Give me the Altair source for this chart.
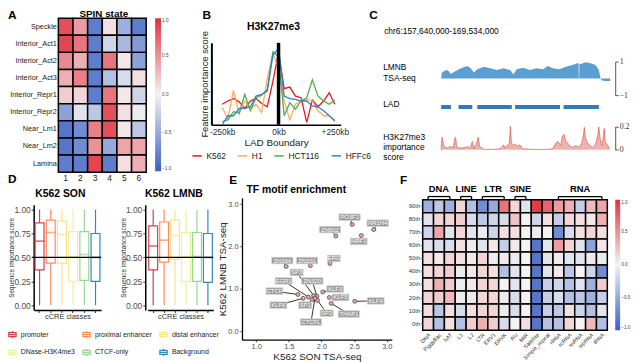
import altair as alt
import pandas as pd

W, H = 632, 354
FONT = "Liberation Sans"
RED, MID, BLUE = "#e2323f", "#f4f2f2", "#3a60c6"

# ---------------- Panel A : SPIN state heatmap ----------------
spin_states = ["Speckle", "Interior_Act1", "Interior_Act2", "Interior_Act3", "Interior_Repr1",
               "Interior_Repr2", "Near_Lm1", "Near_Lm2", "Lamina"]
spin_columns = ["1", "2", "3", "4", "5", "6"]
spin_values = [
    [0.85, 0.45, -0.80, 0.10, -0.45, -0.80],
    [0.90, 0.65, -0.80, -0.20, -0.40, -0.60],
    [0.55, 0.35, -0.80, 0.65, 0.05, -0.55],
    [0.35, 0.60, -0.80, -0.35, -0.15, 0.10],
    [0.20, 0.15, -0.80, 0.65, 0.05, -0.20],
    [-0.55, -0.10, -0.30, 0.85, 0.10, -0.05],
    [-0.85, -0.70, 0.60, 0.85, 0.05, -0.30],
    [-0.85, -0.70, 0.50, -0.50, 0.40, 0.40],
    [-0.80, -0.80, 0.90, -0.80, 0.10, 0.35],
]

# ---------------- Panel B : H3K27me3 around LAD boundary ----------------
lad_kb = [-250, -225, -200, -175, -150, -125, -100, -75, -50, -25, 0,
          25, 50, 75, 100, 125, 150, 175, 200, 225, 250]
cell_lines = ["K562", "H1", "HCT116", "HFFc6"]
cell_colors = ["#e31a1c", "#fdae61", "#4daf4a", "#2c7fd1"]
score_k562 = [0.25, 0.29, 0.32, 0.28, 0.20, 0.29, 0.32, 0.26, 0.22, 0.53, 0.89,
              0.44, 0.46, 0.35, 0.33, 0.03, 0.30, 0.22, 0.29, 0.39, 0.25]
score_h1 = [0.21, 0.07, 0.42, 0.13, 0.29, 0.19, 0.25, 0.15, 0.57, 0.87, 0.69,
            0.29, 0.06, 0.25, 0.29, 0.31, 0.29, 0.17, 0.11, 0.11, 0.04]
score_hct116 = [0.04, 0.06, 0.16, 0.14, 0.37, 0.17, 0.33, 0.36, 0.43, 0.89, 0.83,
                0.11, 0.27, 0.19, 0.29, 0.33, 0.55, 0.35, 0.29, 0.25, 0.30]
score_hffc6 = [0.00, 0.11, 0.11, 0.20, 0.20, 0.22, 0.35, 0.37, 0.41, 0.85, 0.93,
               0.35, 0.32, 0.31, 0.29, 0.29, 0.23, 0.22, 0.17, 0.11, 0.05]
boundary_kb = [0]

# ---------------- Panel C : genome browser tracks ----------------
region = [157.64, 169.534]
lmnb_mb = [157.64, 157.69, 157.87, 158.10, 158.33, 158.56, 159.03, 159.49, 159.72, 159.95,
           160.18, 160.64, 161.10, 161.57, 162.03, 162.49, 162.72, 162.95, 163.41, 163.88,
           164.34, 164.80, 165.15, 165.49, 165.95, 166.42, 166.88, 167.22, 167.31, 167.32,
           167.35, 167.36, 167.46, 167.80, 168.15, 168.49, 168.73, 168.84, 168.91, 169.18, 169.53]
lmnb_val = [0.00, 0.34, 0.46, 0.50, 0.26, 0.40, 0.60, 0.74, 0.60, 0.36,
            0.54, 0.70, 0.60, 0.50, 0.60, 0.50, 0.24, 0.54, 0.64, 0.50,
            0.60, 0.54, 0.74, 0.60, 0.54, 0.70, 0.80, 0.90, 0.90, 0.00,
            0.00, 0.85, 0.86, 0.96, 0.90, 0.80, 0.50, 0.06, -0.10, -0.14, -0.14]
lad_start = [157.64, 158.86, 160.18, 162.84, 166.25]
lad_end = [158.33, 159.83, 162.61, 166.00, 168.73]
k27_mb = [157.64, 157.66, 157.71, 157.78, 157.87, 158.10, 158.33, 158.49, 158.59, 158.66,
          158.73, 159.03, 159.37, 159.49, 159.67, 159.79, 159.86, 159.93, 160.09, 160.18,
          160.25, 160.34, 160.64, 161.34, 161.80, 161.96, 162.03, 162.12, 162.35, 162.44,
          162.51, 162.58, 162.72, 162.84, 163.00, 163.18, 163.37, 164.11, 165.03, 165.49,
          165.68, 165.82, 165.93, 166.05, 166.16, 166.28, 166.39, 166.53, 166.69, 166.88,
          167.11, 167.34, 167.53, 167.64, 167.71, 167.78, 167.87, 167.99, 168.15, 168.31,
          168.49, 168.65, 168.72, 168.79, 168.86, 168.95, 169.04, 169.11, 169.18, 169.27,
          169.36, 169.48]
k27_val = [0.000, 0.051, 0.107, 0.059, 0.023, 0.014, 0.031, 0.014, 0.093, 0.107,
           0.020, 0.014, 0.020, 0.031, 0.008, 0.059, 0.070, 0.008, 0.042, 0.079,
           0.107, 0.031, 0.003, 0.003, 0.008, 0.031, 0.042, 0.014, 0.042, 0.059,
           0.200, 0.059, 0.037, 0.048, 0.031, 0.042, 0.008, 0.003, 0.003, 0.008,
           0.051, 0.070, 0.059, 0.037, 0.115, 0.132, 0.079, 0.059, 0.031, 0.020,
           0.037, 0.020, 0.059, 0.121, 0.192, 0.107, 0.070, 0.051, 0.031, 0.020,
           0.042, 0.121, 0.197, 0.135, 0.059, 0.037, 0.107, 0.183, 0.070, 0.051,
           0.037, 0.008]

# ---------------- Panel D : boxplots ----------------
ccre_classes = ["promoter", "proximal enhancer", "distal enhancer",
                "DNase-H3K4me3", "CTCF-only", "Background"]
ccre_colors = ["#d53e4f", "#fc8d59", "#fee08b", "#e6f598", "#99d594", "#3288bd"]
son_q1 = [0.37, 0.44, 0.44, 0.25, 0.26, 0.25]
son_med = [0.67, 0.76, 0.74, 0.51, 0.53, 0.50]
son_q3 = [0.86, 0.89, 0.88, 0.77, 0.77, 0.75]
lmnb_q1 = [0.37, 0.45, 0.48, 0.25, 0.25, 0.24]
lmnb_med = [0.62, 0.68, 0.73, 0.51, 0.51, 0.50]
lmnb_q3 = [0.83, 0.87, 0.89, 0.76, 0.76, 0.75]
whisker_lo = [0.0, 0.0, 0.0, 0.0, 0.0, 0.0]
whisker_hi = [1.0, 1.0, 1.0, 1.0, 1.0, 1.0]
reference_line = [0.5]

# ---------------- Panel E : TF motif enrichment ----------------
tf_names = ["PO3F2", "NR1H4", "ZN502", "NRF1", "ERG", "ZN394", "ZN331", "SP3", "EGR1", "ZN320",
            "CTCF", "KLF6", "SP1", "SP2", "CTCFL", "THAP1", "KLF3", "KLF5", "KLF9"]
tf_son = [2.47, 2.80, 2.22, 2.61, 2.13, 1.46, 1.83, 1.88, 1.80, 1.93,
          1.64, 1.72, 1.86, 1.94, 1.90, 2.15, 2.02, 2.12, 2.51]
tf_lmnb = [2.52, 2.40, 2.25, 2.26, 1.60, 1.53, 1.55, 0.845, 0.81, 0.83,
           0.87, 0.78, 0.75, 0.73, 0.78, 0.66, 0.93, 0.80, 0.71]
label_son = [2.43, 2.86, 2.13, 2.57, 2.19, 1.40, 1.78, 1.62, 1.42, 1.86,
             1.28, 1.34, 1.75, 2.08, 1.84, 2.42, 2.21, 2.29, 2.83]
label_lmnb = [2.69, 2.55, 2.40, 2.12, 1.72, 1.67, 1.67, 1.39, 1.19, 1.19,
              0.95, 0.62, 0.62, 0.43, 0.22, 0.41, 1.00, 0.80, 0.72]

# ---------------- Panel F : repeat heatmap ----------------
repeat_classes = ["DNA", "PiggyBac", "hAT", "L1", "L2", "LTR", "ERV1", "ERVK", "Alu", "MIR",
                  "Satellite", "Simple_repeat", "rRNA", "scRNA", "snRNA", "srpRNA", "tRNA"]
percentiles = ["90th", "80th", "70th", "60th", "50th", "40th", "30th", "20th", "10th", "0th"]
repeat_values = [
    [-0.45, -0.30, -0.45, 0.15, -0.35, -0.70, -0.50, 0.65, 0.15, -0.10, 0.95, 0.75, 0.45, 0.35, -0.25, 0.30, 0.40],
    [-0.10, 0.15, 0.15, 0.20, -0.15, -0.30, -0.20, -0.15, 0.25, 0.00, -0.20, 0.10, -0.25, 0.15, 0.10, 0.05, 0.35],
    [-0.20, 0.40, -0.10, 0.15, -0.10, -0.05, -0.20, 0.10, 0.10, 0.00, -0.05, 0.00, -0.70, -0.15, 0.10, 0.15, 0.10],
    [-0.10, -0.15, -0.15, 0.10, -0.05, -0.10, 0.05, -0.25, 0.05, 0.00, -0.85, -0.10, 0.45, 0.15, -0.10, -0.55, 0.05],
    [0.10, 0.05, 0.15, 0.10, 0.05, 0.15, -0.05, 0.05, -0.05, 0.00, -0.85, -0.10, -0.05, -0.10, -0.10, 0.05, -0.05],
    [0.10, 0.15, 0.20, -0.05, 0.05, 0.15, 0.10, -0.35, -0.10, 0.00, -0.85, -0.10, 0.05, -0.30, 0.00, -0.20, -0.70],
    [0.10, 0.35, 0.20, -0.05, 0.05, 0.15, 0.15, 0.00, -0.10, 0.00, -0.85, -0.25, -0.20, -0.35, -0.10, -0.45, 0.20],
    [0.15, 0.20, 0.30, -0.05, 0.05, 0.15, 0.15, -0.05, -0.15, 0.00, -0.85, -0.25, -0.15, -0.35, -0.30, -0.45, -0.25],
    [0.10, -0.30, 0.10, -0.15, 0.10, 0.15, 0.15, -0.05, -0.15, 0.00, -0.85, -0.25, -0.30, 0.10, -0.20, -0.35, -0.10],
    [0.15, -0.35, 0.10, -0.35, 0.20, 0.35, 0.20, -0.15, 0.00, 0.10, -0.85, -0.35, -0.35, 0.15, 0.00, 0.30, -0.35],
]
repeat_groups = ["DNA", "LINE", "LTR", "SINE", "RNA"]
group_first = ["DNA", "L1", "LTR", "Alu", "rRNA"]
group_last = ["hAT", "L2", "ERVK", "MIR", "tRNA"]


# ================= helpers =================
def txt(s, x, y, size=9, weight="normal", align="left", baseline="top", font=FONT, color="black"):
    return alt.Chart(alt.Data(values=[{}])).mark_text(
        text=s, x=x, y=y, fontSize=size, fontWeight=weight, align=align,
        baseline=baseline, font=font, color=color, lineBreak="\n", lineHeight=size * 1.2)


div_scale = dict(domain=[-1, 0, 1], range=[BLUE, MID, RED], interpolate="rgb")

def grad_legend(x, y, length, thick):
    return alt.Legend(orient="none", legendX=x, legendY=y, direction="vertical", title=None,
                      gradientLength=length, gradientThickness=thick, values=[-1, -0.5, 0, 0.5, 1],
                      format=".1f", labelFontSize=4.8, labelColor="#444", labelOverlap=False,
                      labelOffset=1, gradientStrokeWidth=0)

layers = []

# ---------- A ----------
a_df = pd.DataFrame([{"state": s, "col": c, "v": spin_values[i][j]}
                     for i, s in enumerate(spin_states) for j, c in enumerate(spin_columns)])
heat_a = alt.Chart(a_df).mark_rect(stroke="black", strokeWidth=1.5).encode(
    x=alt.X("col:O", sort=spin_columns,
            scale=alt.Scale(range=[51, 140], paddingInner=0, paddingOuter=0),
            axis=alt.Axis(orient="bottom", offset=164 - H, domain=False, ticks=False, labelAngle=0,
                          labelFontSize=8.5, labelPadding=1, labelColor="#222", title=None)),
    y=alt.Y("state:O", sort=spin_states,
            scale=alt.Scale(range=[8, 164], paddingInner=0, paddingOuter=0),
            axis=alt.Axis(orient="left", offset=-51, domain=False, ticks=False, labelFontSize=7.4,
                          labelPadding=2, labelColor="#222", title=None)),
    color=alt.Color("v:Q", scale=alt.Scale(**div_scale), legend=grad_legend(149, 8, 155, 6)),
)
layers += [heat_a, txt("SPIN state", 97, -1.5, size=10, weight="bold", align="center"),
           txt("A", 0, 0, size=12, weight="bold")]

# ---------- B ----------
b_df = pd.DataFrame({
    "kb": lad_kb * 4,
    "score": score_k562 + score_h1 + score_hct116 + score_hffc6,
    "cell": sum([[c] * len(lad_kb) for c in cell_lines], []),
})
bx = alt.Scale(domain=[-298, 276], range=[206, 337], nice=False, zero=False)
by = alt.Scale(domain=[0, 1], range=[116, 33], nice=False, zero=False)
b_lines = alt.Chart(b_df).mark_line(strokeWidth=1.3).encode(
    x=alt.X("kb:Q", scale=bx,
            axis=alt.Axis(orient="bottom", offset=116 - H, values=[-250, 0, 250], labelFlush=False,
                          labelExpr="datum.value == 0 ? '0kb' : (datum.value > 0 ? '+' + datum.value + 'kb' : datum.value + 'kb')",
                          ticks=False, domainColor="black", domainWidth=1.5, labelFontSize=8.5,
                          labelColor="#333", labelPadding=3, title="LAD Boundary", titleFontSize=10,
                          titleFontWeight="normal", titlePadding=2, titleColor="#222")),
    y=alt.Y("score:Q", scale=by,
            axis=alt.Axis(orient="left", offset=-206, labels=False, ticks=False, domainColor="black",
                          domainWidth=2, title="Feature importance score", titleFontSize=9.5,
                          titleFontWeight="normal", titlePadding=2, titleColor="#222")),
    color=alt.Color("cell:N", sort=cell_lines, scale=alt.Scale(domain=cell_lines, range=cell_colors),
                    legend=alt.Legend(orient="none", legendX=186, legendY=142, direction="horizontal",
                                      title=None, symbolType="stroke", symbolSize=90,
                                      symbolStrokeWidth=1.5, labelFontSize=8.5, labelColor="#222",
                                      columnPadding=8, labelOffset=4, gridAlign="none")),
)
b_rule = alt.Chart(pd.DataFrame({"kb": boundary_kb})).mark_rule(color="black", strokeWidth=3.5).encode(
    x=alt.X("kb:Q", scale=bx), y=alt.value(33), y2=alt.value(116))
layers += [alt.layer(b_lines, b_rule),
           txt("H3K27me3", 269, 12, size=10.5, weight="bold", align="center"),
           txt("B", 197, 0, size=12, weight="bold")]

# ---------- C ----------
cx = alt.Scale(domain=region, range=[438.7, 610], nice=False, zero=False)
lmnb_df = pd.DataFrame({"mb": lmnb_mb, "v": lmnb_val})
c_lmnb = alt.Chart(lmnb_df).mark_area(color="#5b9fd2").encode(
    x=alt.X("mb:Q", scale=cx, axis=None),
    y=alt.Y("v:Q", scale=alt.Scale(domain=[-1, 1], range=[86.3, 52], nice=False),
            axis=alt.Axis(orient="right", offset=615 - W, values=[-1, 1], format="d",
                          labelFont="Liberation Serif", labelFontSize=8, tickSize=3,
                          domainColor="#555", tickColor="#555", labelColor="#333",
                          labelPadding=1, title=None)),
)
lad_df = pd.DataFrame({"s": lad_start, "e": lad_end})
c_lad = alt.Chart(lad_df).mark_rect(color="#2f7cb9").encode(
    x=alt.X("s:Q", scale=cx, axis=None), x2="e:Q", y=alt.value(96), y2=alt.value(100))
k27_df = pd.DataFrame({"mb": k27_mb, "v": k27_val})
k27_y = alt.Scale(domain=[0, 0.2], range=[141.3, 117.7], nice=False)
c_k27 = alt.Chart(k27_df).mark_area(color="#e8938a", line={"color": "#d0493e", "strokeWidth": 0.6}).encode(
    x=alt.X("mb:Q", scale=cx, axis=None),
    y=alt.Y("v:Q", scale=k27_y,
            axis=alt.Axis(orient="right", offset=615 - W, values=[0, 0.2], labelFont="Liberation Serif",
                          labelFontSize=8, tickSize=3, domainColor="#555", tickColor="#555",
                          labelColor="#333", labelPadding=1, title=None,
                          labelExpr="datum.value == 0 ? '0' : format(datum.value, '.1f')")),
)
layers += [c_lmnb, c_lad, c_k27,
           txt("chr6:157,640,000-169,534,000", 381, 17, size=8.5),
           txt("LMNB\nTSA-seq", 380, 54, size=8.5),
           txt("LAD", 380, 91, size=8.5),
           txt("H3K27me3\nimportance\nscore", 380, 124, size=8.5),
           txt("C", 366, 0, size=12, weight="bold")]

# ---------- D ----------
BOXPATH = "M-1,-0.55H1V0.55H-1Z M-1,0H1 M0,-0.55V-1 M0,0.55V1"

def box_panel(q1, med, q3, xr, axis_at, legend):
    df = pd.DataFrame({"cls": ccre_classes, "lo": whisker_lo, "q1": q1, "med": med,
                       "q3": q3, "hi": whisker_hi})
    xs = alt.Scale(domain=ccre_classes, range=xr, paddingInner=0, paddingOuter=0)
    ys = alt.Scale(domain=[-0.05, 1.05], range=[303.7, 197], nice=False, zero=False)
    xenc = alt.X("cls:N", sort=ccre_classes, scale=xs,
                 axis=alt.Axis(orient="bottom", offset=303.7 - H, labels=False, tickSize=2.5,
                               tickColor="#333", domainColor="black", domainWidth=1.5,
                               title="cCRE classes", titleFontSize=7.5, titleFontWeight="normal",
                               titlePadding=0, titleColor="#333"))
    yenc = alt.Y("q1:Q", scale=ys,
                 axis=alt.Axis(orient="left", offset=-axis_at, values=[0, 0.25, 0.5, 0.75, 1],
                               format=".2f", labelFontSize=8.5, labelColor="#4d4d4d", tickSize=2.5,
                               tickColor="#333", labelPadding=1, domainColor="black", domainWidth=1.5,
                               title="Sequence importance score", titleFontSize=6.5,
                               titleFontWeight="normal", titlePadding=-1, titleColor="#222"))
    if legend:
        leg = alt.Legend(orient="none", legendX=0, legendY=324, direction="horizontal", columns=3,
                         gridAlign="none", title=None, symbolType=BOXPATH, symbolSize=55,
                         symbolStrokeWidth=1.2, symbolFillColor="transparent",
                         labelFontSize=7, labelColor="#222",
                         columnPadding=5, rowPadding=5, labelLimit=60, labelOffset=4)
    else:
        leg = None
    stroke = alt.Stroke("cls:N", sort=ccre_classes,
                        scale=alt.Scale(domain=ccre_classes, range=ccre_colors), legend=leg)
    base = alt.Chart(df)
    box = base.mark_bar(filled=False, width=9, strokeWidth=1.2).encode(
        x=xenc, y=yenc, y2="q3:Q", stroke=stroke)
    w_lo = base.mark_rule(strokeWidth=1.2).encode(x=xenc, y="lo:Q", y2="q1:Q", stroke=stroke)
    w_hi = base.mark_rule(strokeWidth=1.2).encode(x=xenc, y="q3:Q", y2="hi:Q", stroke=stroke)
    medt = base.mark_tick(filled=False, size=9, thickness=0.2, strokeWidth=1.5).encode(
        x=xenc, y="med:Q", stroke=stroke)
    hline = alt.Chart(pd.DataFrame({"y": reference_line})).mark_rule(color="black", strokeWidth=1.3).encode(
        y=alt.Y("y:Q", scale=ys), x=alt.value(xr[0] - 2), x2=alt.value(xr[1]))
    return alt.layer(box, w_lo, w_hi, medt, hline)

layers += [box_panel(son_q1, son_med, son_q3, [26.3, 94.3], 26, True),
           box_panel(lmnb_q1, lmnb_med, lmnb_q3, [141.5, 208], 139, False),
           txt("K562 SON", 53, 181, size=10.5, weight="bold", align="center"),
           txt("K562 LMNB", 168, 181, size=10.5, weight="bold", align="center"),
           txt("D", 0, 166, size=12, weight="bold")]

# ---------- E ----------
e_df = pd.DataFrame({"tf": tf_names, "son": tf_son, "lmnb": tf_lmnb, "lx": label_son, "ly": label_lmnb})
ex = alt.Scale(domain=[0.784, 3.076], range=[237, 388.7], nice=False, zero=False)
ey = alt.Scale(domain=[-0.195, 3.147], range=[333.7, 190], nice=False, zero=False)
ebase = alt.Chart(e_df)
e_seg = ebase.mark_rule(color="black", strokeWidth=0.8).encode(
    x=alt.X("son:Q", scale=ex,
            axis=alt.Axis(orient="bottom", offset=333.7 - H, values=[1.0, 1.5, 2.0, 2.5, 3.0],
                          format=".1f", labelFontSize=7.5, labelColor="#4d4d4d", tickSize=2,
                          tickColor="#333", labelPadding=1, domainColor="black", domainWidth=1.3,
                          labelFlush=False, title="K562 SON TSA-seq", titleFontSize=10,
                          titleFontWeight="normal", titlePadding=1.5, titleColor="#222")),
    y=alt.Y("lmnb:Q", scale=ey,
            axis=alt.Axis(orient="left", offset=-237, values=[0, 1, 2, 3], labelFontSize=7.5,
                          labelColor="#4d4d4d", tickSize=2, tickColor="#333", labelPadding=2,
                          domainColor="black", domainWidth=1.3, title="K562 LMNB TSA-seq",
                          titleFontSize=10, titleFontWeight="normal", titlePadding=0,
                          titleColor="#222")),
    x2="lx:Q", y2="ly:Q")
label_shapes = ["M-2.2,-1.12H2.2V1.12H-2.2Z", "M-2.85,-1.12H2.85V1.12H-2.85Z",
                "M-3.6,-1.12H3.6V1.12H-3.6Z"]
e_box = ebase.transform_calculate(nchar="toString(length(datum.tf))").mark_point(
    filled=True, size=36, fill="#9a9a9a", stroke="#d9d9d9", strokeWidth=0.8, opacity=1).encode(
    x=alt.X("lx:Q", scale=ex), y=alt.Y("ly:Q", scale=ey),
    shape=alt.Shape("nchar:N", scale=alt.Scale(domain=["3", "4", "5"], range=label_shapes), legend=None))
e_lab = ebase.mark_text(color="white", fontSize=6).encode(
    x=alt.X("lx:Q", scale=ex), y=alt.Y("ly:Q", scale=ey), text="tf:N")
e_pts = ebase.mark_point(filled=True, size=16, fill="#e6a9b0", stroke="#333", strokeWidth=0.7, opacity=1).encode(
    x=alt.X("son:Q", scale=ex), y=alt.Y("lmnb:Q", scale=ey))
layers += [alt.layer(e_seg, e_pts, e_box, e_lab),
           txt("TF motif enrichment", 292, 177, size=10.5, weight="bold", align="center"),
           txt("E", 224, 167, size=12, weight="bold")]

# ---------- F ----------
f_df = pd.DataFrame([{"pct": p, "rep": r, "v": repeat_values[i][j]}
                     for i, p in enumerate(percentiles) for j, r in enumerate(repeat_classes)])
heat_f = alt.Chart(f_df).mark_rect(stroke="black", strokeWidth=1.5).encode(
    x=alt.X("rep:O", sort=repeat_classes,
            scale=alt.Scale(range=[420, 607], paddingInner=0, paddingOuter=0),
            axis=alt.Axis(orient="bottom", offset=324 - H, domain=False, ticks=False, labelAngle=-45,
                          labelAlign="right", labelBaseline="top", labelFontSize=5.5,
                          labelPadding=2, labelColor="#333", title=None)),
    y=alt.Y("pct:O", sort=percentiles,
            scale=alt.Scale(range=[192, 324], paddingInner=0, paddingOuter=0),
            axis=alt.Axis(orient="left", offset=-420, domain=False, tickSize=2, tickColor="#555",
                          labelFontSize=6, labelPadding=1, labelColor="#333", title=None)),
    color=alt.Color("v:Q", scale=alt.Scale(**div_scale), legend=grad_legend(615, 192, 132, 5)),
)
grp_df = pd.DataFrame({"group": repeat_groups,
                       "i0": [repeat_classes.index(c) for c in group_first],
                       "i1": [repeat_classes.index(c) for c in group_last]})
gx = alt.Scale(domain=[-0.5, len(repeat_classes) - 0.5], range=[420, 607], nice=False, zero=False)
gbase = alt.Chart(grp_df).transform_calculate(mid="(datum.i0 + datum.i1) / 2")
g_h = gbase.mark_rule(color="black", strokeWidth=1.3).encode(
    x=alt.X("i0:Q", scale=gx, axis=None), x2="i1:Q", y=alt.value(188.7))
g_l = gbase.mark_rule(color="black", strokeWidth=1.3).encode(
    x=alt.X("i0:Q", scale=gx, axis=None), y=alt.value(188.7), y2=alt.value(191.5))
g_r = gbase.mark_rule(color="black", strokeWidth=1.3).encode(
    x=alt.X("i1:Q", scale=gx, axis=None), y=alt.value(188.7), y2=alt.value(191.5))
g_t = gbase.mark_text(fontSize=9.5, fontWeight="bold", baseline="bottom").encode(
    x=alt.X("mid:Q", scale=gx, axis=None), y=alt.value(186.5), text="group:N")
layers += [heat_f, alt.layer(g_h, g_l, g_r, g_t), txt("F", 397, 167, size=12, weight="bold")]

chart = alt.layer(*layers).resolve_scale(
    x="independent", y="independent", color="independent", shape="independent",
    stroke="independent"
).properties(
    width=W, height=H, autosize=alt.AutoSizeParams(type="none"), padding=0
).configure(font=FONT).configure_view(stroke=None).configure_axis(grid=False)

chart.save("out.html", embed_options={"renderer": "svg", "actions": False})
